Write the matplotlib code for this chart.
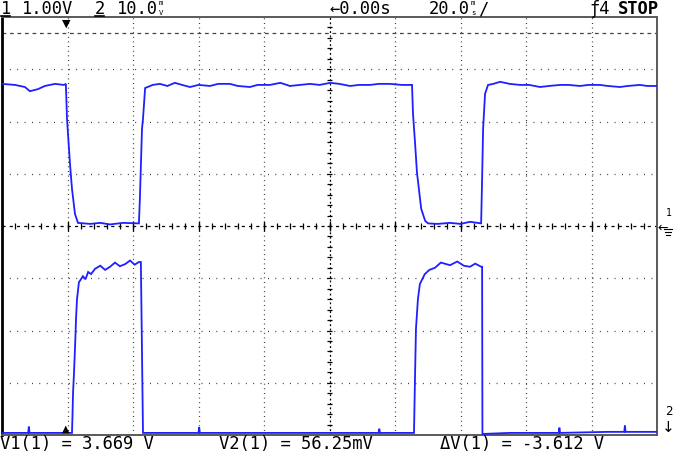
#!/usr/bin/env python3
# -*- coding: utf-8 -*-
import numpy as np
import matplotlib
matplotlib.use("Agg")
import matplotlib.pyplot as plt

# screen setup: 10 x 8 divisions, 20 ms/div, trigger one division from the left
time_per_div = 20.0      # ms
ch1_volt_per_div = 1.0   # V
ch2_volt_per_div = 10.0  # mV
ch1_ground_div = 4.0     # ch1 ground marker in the middle of the screen
ch2_ground_div = 0.0     # ch2 ground on the bottom edge

# channel 1 (V)
ch1_t = [-20.0, -16.0, -13.0, -11.5, -9.0, -6.9, -3.8, -1.1, -0.5, -0.15, 0.46, 0.76, 1.37,
         2.29, 3.2, 6.9, 10.0, 13.0, 17.0, 21.8, 22.1, 22.75, 23.05, 23.7, 26.0, 28.2, 30.5,
         32.8, 35.0, 37.4, 40.0, 43.5, 46.0, 49.6, 52.0, 55.7, 58.0, 61.8, 65.0, 67.9, 71.0,
         74.0, 77.0, 80.2, 83.0, 86.3, 89.0, 92.4, 95.0, 98.5, 102.0, 105.2, 105.5, 106.1,
         106.7, 107.4, 108.0, 109.2, 110.1, 113.0, 116.8, 120.0, 122.9, 126.3, 126.6, 126.9,
         127.5, 128.4, 130.0, 132.1, 135.0, 138.2, 141.0, 144.3, 147.0, 150.4, 153.0, 156.5,
         159.0, 162.6, 165.0, 168.7, 171.0, 174.8, 177.0, 180.0]
ch1_v = [2.72, 2.70, 2.66, 2.58, 2.62, 2.68, 2.72, 2.70, 2.72, 2.05, 1.47, 1.19, 0.71,
         0.23, 0.06, 0.04, 0.06, 0.03, 0.06, 0.05, 0.52, 1.86, 2.05, 2.64, 2.70, 2.72, 2.68,
         2.74, 2.70, 2.66, 2.70, 2.68, 2.72, 2.72, 2.68, 2.66, 2.70, 2.70, 2.74, 2.68, 2.70,
         2.72, 2.70, 2.74, 2.72, 2.68, 2.70, 2.70, 2.72, 2.72, 2.70, 2.70, 2.14, 1.61,
         1.03, 0.65, 0.33, 0.10, 0.05, 0.04, 0.06, 0.04, 0.08, 0.05, 0.90, 1.86,
         2.53, 2.70, 2.72, 2.76, 2.72, 2.70, 2.70, 2.66, 2.68, 2.70, 2.70, 2.68,
         2.70, 2.70, 2.68, 2.66, 2.68, 2.70, 2.68, 2.68]

# channel 2 (mV)
ch2_t = [-20.0, -12.0, -11.8, -11.6, 1.37, 1.5, 1.7, 2.0, 2.4, 2.6, 2.9, 3.5, 3.8, 4.7, 5.5,
         6.3, 7.2, 8.4, 10.0, 11.5, 13.0, 14.5, 16.0, 17.6, 19.1, 20.5, 21.8, 22.4, 22.6,
         23.05, 40.0, 40.2, 40.4, 80.0, 95.0, 95.2, 95.4, 105.8, 106.1, 106.4, 107.0, 107.6,
         109.1, 110.5, 112.2, 114.0, 116.8, 119.0, 121.0, 122.9, 124.5, 126.3, 126.6, 126.7,
         135.0, 150.0, 150.2, 150.4, 165.0, 170.0, 170.2, 170.4, 180.0]
ch2_mv = [0.4, 0.4, 1.6, 0.4, 0.4, 3.1, 8.2, 12.1, 18.4, 22.2, 26.0, 29.3, 29.5, 30.4, 29.8,
          31.2, 30.8, 31.8, 32.4, 31.6, 32.2, 33.0, 32.3, 32.7, 33.4, 32.6, 33.1, 33.1, 23.2,
          0.4, 0.4, 1.5, 0.4, 0.4, 0.4, 1.2, 0.4, 0.4, 10.7, 20.3, 26.0, 28.9,
          30.8, 31.6, 32.0, 33.0, 32.5, 33.2, 32.4, 32.2, 32.8, 32.2, 32.2, 0.2,
          0.4, 0.4, 1.4, 0.4, 0.6, 0.6, 1.8, 0.6, 0.6]

header_left = ["1", "1.00V", "2", "10.0"]
header_right = ["\u21900.00s", "20.0", "\u01924", "STOP"]
readouts = ["V1(1) = 3.669 V", "V2(1) = 56.25mV", "\u0394V(1) = -3.612 V"]

W, H = 674, 452
fig = plt.figure(figsize=(W / 100, H / 100), dpi=100)
fig.patch.set_facecolor("white")

# screen frame in pixels
x0, x1, y0, y1 = 2, 657, 18, 436
ax = fig.add_axes([x0 / W, 1 - y1 / H, (x1 - x0) / W, (y1 - y0) / H])
ax.set_xlim(-time_per_div, 9 * time_per_div)
ax.set_ylim(0, 8)
ax.set_xticks([])
ax.set_yticks([])
for side in ["top", "right", "bottom"]:
    ax.spines[side].set_color("#5a5a5a")
    ax.spines[side].set_linewidth(1.4)
ax.spines["left"].set_color("black")
ax.spines["left"].set_linewidth(2.0)

# dotted graticule
for i in range(1, 10):
    t = -time_per_div + i * time_per_div
    if i == 5:
        continue
    ax.axvline(t, color="#222222", lw=0.9, dashes=(0.7, 3.0), zorder=1)
for j in range(1, 8):
    if j == 4:
        continue
    ax.axhline(j, color="#222222", lw=0.9, dashes=(0.7, 5.2), zorder=1)

# centre lines with small ticks
tc = -time_per_div + 5 * time_per_div
ax.axhline(4, color="black", lw=0.9, dashes=(2.5, 3.3), zorder=1)
ax.axvline(tc, color="black", lw=0.9, dashes=(1.5, 2.0), zorder=1)
tick_t = np.arange(-time_per_div, 9 * time_per_div, time_per_div / 5)
ax.vlines(tick_t, 3.94, 4.06, color="black", lw=0.9, zorder=1)
ax.vlines(np.arange(-time_per_div, 9 * time_per_div + 1, time_per_div), 3.9, 4.1,
          color="black", lw=0.9, zorder=1)
ax.hlines(np.arange(0.2, 8, 0.2), tc - 0.8, tc + 0.8, color="black", lw=0.9, zorder=1)

# dashed marker line near the top
ax.axhline(7.69, color="#444444", lw=0.9, dashes=(3.0, 3.0), zorder=1)

# traces
trace_col = "#1f1fff"
ax.plot(ch1_t, ch1_ground_div + np.array(ch1_v) / ch1_volt_per_div,
        color=trace_col, lw=1.3, zorder=3, solid_joinstyle="miter")
ax.plot(ch2_t, ch2_ground_div + np.array(ch2_mv) / ch2_volt_per_div,
        color=trace_col, lw=1.3, zorder=3, solid_joinstyle="miter")

# trigger markers
ax.text(-0.5, 7.98, "\u25bc", ha="center", va="top", fontsize=8, color="black",
        family="DejaVu Sans")
ax.text(-0.5, 0.05, "\u25b2", ha="center", va="bottom", fontsize=7, color="black",
        family="DejaVu Sans")


def px(x, y):
    return x / W, 1 - y / H


mono = "DejaVu Sans Mono"
fs = 12.3

# header
fig.text(*px(1, 9), header_left[0], ha="left", va="center", fontsize=fs, family=mono)
fig.lines.append(plt.Line2D([1 / W, 10 / W], [1 - 17 / H, 1 - 17 / H],
                            transform=fig.transFigure, color="black", lw=1.2))
fig.text(*px(22, 9), header_left[1], ha="left", va="center", fontsize=fs, family=mono)
fig.text(*px(95, 9), header_left[2], ha="left", va="center", fontsize=fs, family=mono)
fig.lines.append(plt.Line2D([95 / W, 104 / W], [1 - 17 / H, 1 - 17 / H],
                            transform=fig.transFigure, color="black", lw=1.2))
fig.text(*px(117, 9), header_left[3], ha="left", va="center", fontsize=fs, family=mono)
fig.text(*px(159, 3), "m", ha="left", va="center", fontsize=5.2, family=mono)
fig.text(*px(159, 13), "V", ha="left", va="center", fontsize=5.2, family=mono)

fig.text(*px(329, 9), header_right[0], ha="left", va="center", fontsize=fs, family=mono)
fig.text(*px(429, 9), header_right[1], ha="left", va="center", fontsize=fs, family=mono)
fig.text(*px(471, 3), "m", ha="left", va="center", fontsize=5.2, family=mono)
fig.text(*px(471, 13), "s", ha="left", va="center", fontsize=5.2, family=mono)
fig.text(*px(478, 9), "/", ha="left", va="center", fontsize=fs, family=mono)
fig.text(*px(589, 9), header_right[2], ha="left", va="center", fontsize=fs, family=mono)
fig.text(*px(618, 9), header_right[3], ha="left", va="center", fontsize=fs, family=mono,
         fontweight="bold")

# readouts
fig.text(*px(0, 444), readouts[0], ha="left", va="center", fontsize=fs, family=mono)
fig.text(*px(219, 444), readouts[1], ha="left", va="center", fontsize=fs, family=mono)
fig.text(*px(440, 444), readouts[2], ha="left", va="center", fontsize=fs, family=mono)

# channel reference markers on the right
fig.text(*px(666, 213), "1", ha="left", va="center", fontsize=7, family=mono)
fig.text(*px(657, 228), "\u2190", ha="left", va="center", fontsize=9, family="DejaVu Sans")
for k, (a, b) in enumerate([(664, 672), (665, 671), (666, 670)]):
    yy = 1 - (230 + 3 * k) / H
    fig.lines.append(plt.Line2D([a / W, b / W], [yy, yy], transform=fig.transFigure,
                                color="black", lw=0.8))
fig.text(*px(665, 412), "2", ha="left", va="center", fontsize=9, family=mono)
fig.text(*px(662, 428), "\u2193", ha="left", va="center", fontsize=11, family="DejaVu Sans")

fig.savefig("out.png", dpi=100)
